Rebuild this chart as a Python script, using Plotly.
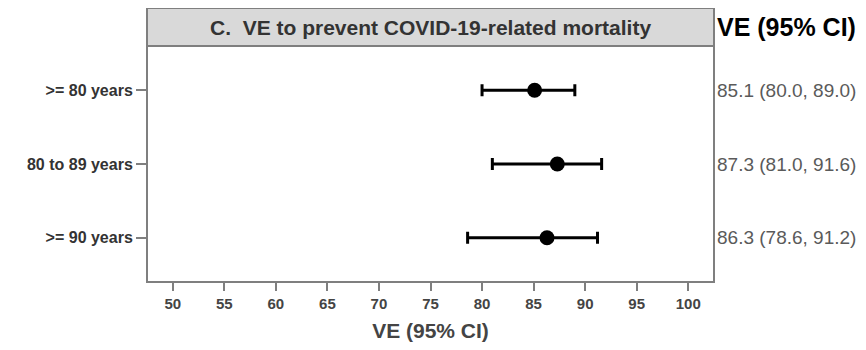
import plotly.graph_objects as go

groups = [">= 80 years", "80 to 89 years", ">= 90 years"]
ve = [85.1, 87.3, 86.3]
lo = [80.0, 81.0, 78.6]
hi = [89.0, 91.6, 91.2]
ci_text = ["85.1 (80.0, 89.0)", "87.3 (81.0, 91.6)", "86.3 (78.6, 91.2)"]
x_ticks = [50, 55, 60, 65, 70, 75, 80, 85, 90, 95, 100]
title = "C.  VE to prevent COVID-19-related mortality"
axis_title = "VE (95% CI)"

# page body has an 8px margin, so the figure is drawn 8px smaller
W, H = 858, 342
L, R, T, B = 139, 152, 38, 68
plot_h = H - T - B
FONT = "Liberation Sans"

fig = go.Figure()
fig.add_trace(go.Scatter(
    x=ve, y=groups, mode="markers",
    marker=dict(color="black", size=15, symbol="circle"),
    error_x=dict(type="data", symmetric=False,
                 array=[h - v for h, v in zip(hi, ve)],
                 arrayminus=[v - l for v, l in zip(ve, lo)],
                 color="black", thickness=3, width=6),
    showlegend=False, hoverinfo="skip",
))

# strip header
fig.add_shape(type="rect", xref="paper", yref="paper", x0=0, x1=1,
              y0=1, y1=1 + 38 / plot_h, fillcolor="#d9d9d9",
              line=dict(color="#7f7f7f", width=2), layer="below")
fig.add_annotation(text="<b>" + title + "</b>", xref="paper", yref="paper",
                   x=0.5, y=1 + 19 / plot_h, xanchor="center", yanchor="middle",
                   showarrow=False,
                   font=dict(size=21, color="#333333", family=FONT))
# panel border
fig.add_shape(type="rect", xref="paper", yref="paper", x0=0, x1=1, y0=0, y1=1,
              line=dict(color="#7f7f7f", width=2))

# right column
fig.add_annotation(text="<b>" + axis_title + "</b>", xref="paper", yref="paper",
                   x=1.002, xanchor="left", y=1 + 19 / plot_h, yanchor="middle",
                   showarrow=False,
                   font=dict(size=25, color="black", family=FONT))
for g, t in zip(groups, ci_text):
    fig.add_annotation(text=t, xref="paper", yref="y", x=1.002, xanchor="left",
                       y=g, yanchor="middle", showarrow=False,
                       font=dict(size=19, color="#5a5a5a", family=FONT))

fig.update_xaxes(range=[47.5, 102.5], tickvals=x_ticks,
                 ticktext=["<b>%d</b>" % v for v in x_ticks],
                 ticks="outside", ticklen=8, tickwidth=2, tickcolor="#7f7f7f",
                 showgrid=False, zeroline=False, showline=False,
                 tickfont=dict(size=15, color="#444444", family=FONT),
                 title=dict(text="<b>" + axis_title + "</b>", standoff=12,
                            font=dict(size=21, color="#444444", family=FONT)))
fig.update_yaxes(categoryorder="array", categoryarray=groups[::-1],
                 range=[-0.6, 2.6],
                 tickvals=groups, ticktext=["<b>%s</b>" % g for g in groups],
                 ticks="outside", ticklen=10, tickwidth=2, tickcolor="#7f7f7f",
                 showgrid=False, zeroline=False, showline=False,
                 tickfont=dict(size=16, color="#333333", family=FONT))

fig.update_layout(width=W, height=H, margin=dict(l=L, r=R, t=T, b=B, autoexpand=False),
                  plot_bgcolor="white", paper_bgcolor="white")
fig.write_html("out.html")
